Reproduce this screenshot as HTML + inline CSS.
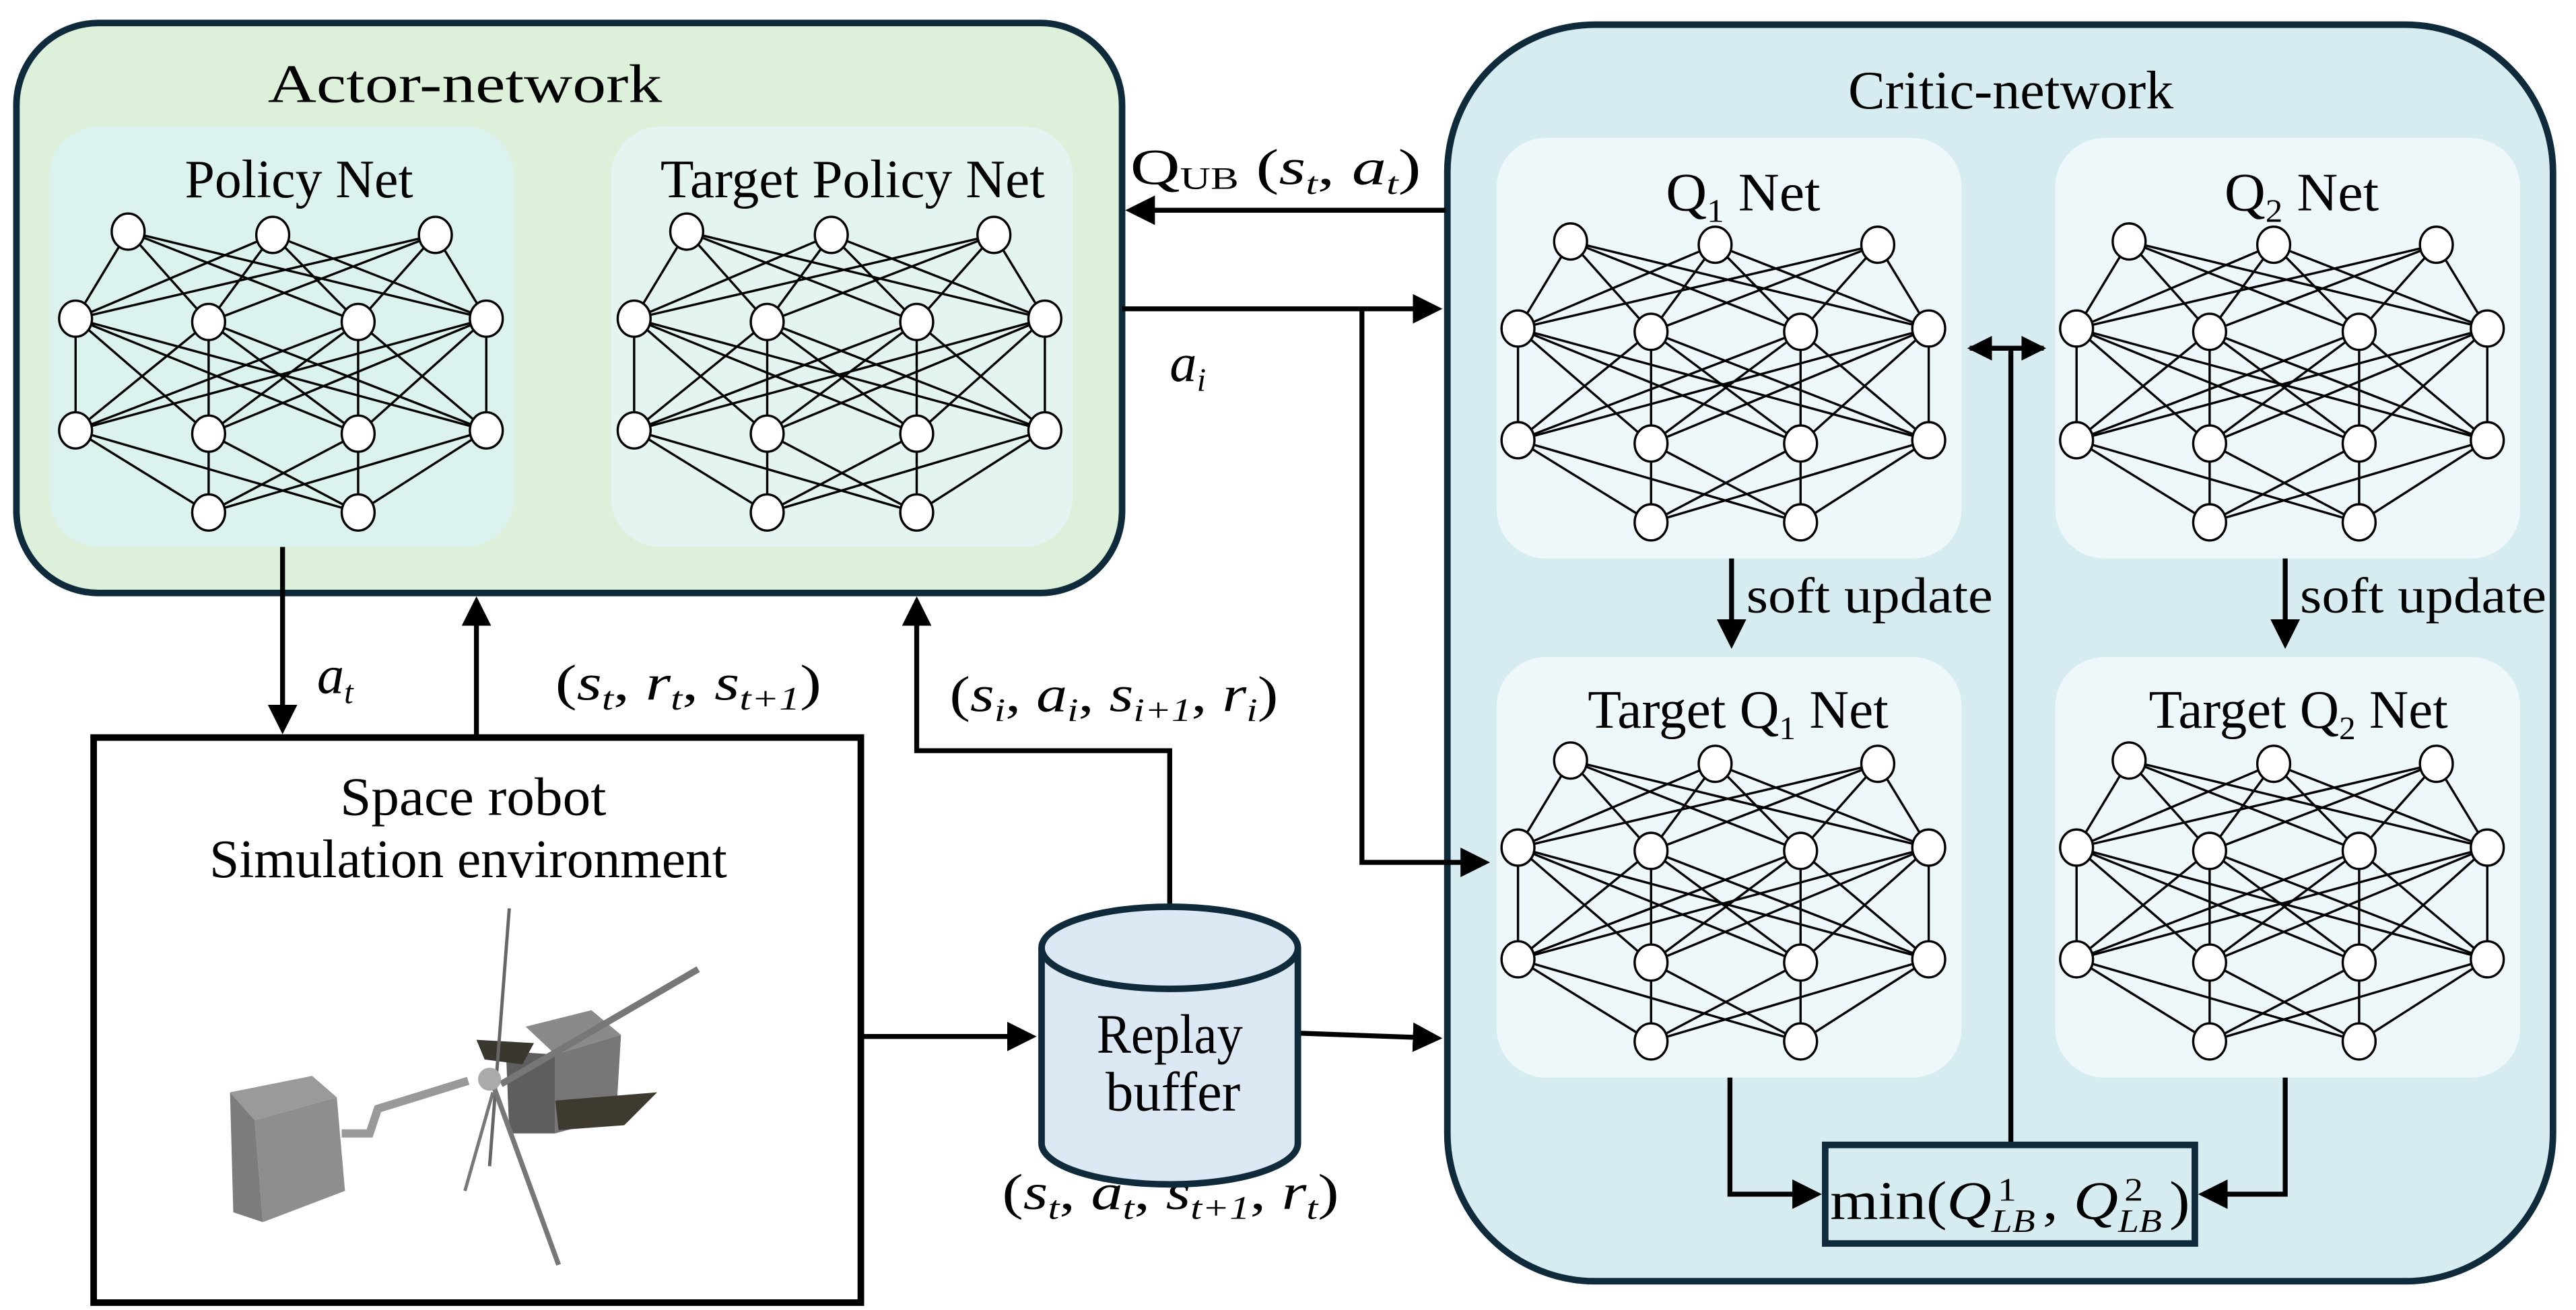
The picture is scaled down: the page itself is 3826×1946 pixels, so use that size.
<!DOCTYPE html>
<html><head><meta charset="utf-8"><style>
html,body{margin:0;padding:0;background:#fff;}
svg{display:block;}
text{font-family:"Liberation Serif",serif;fill:#000;}
.m{font-style:italic;}
</style></head><body>
<svg id="s" width="3826" height="1946" viewBox="0 0 1568 797.5" preserveAspectRatio="none" xmlns="http://www.w3.org/2000/svg" font-family="Liberation Serif, serif">
<defs>
<marker id="ah" markerWidth="6" markerHeight="6" refX="5" refY="3" orient="auto" markerUnits="strokeWidth">
<path d="M0,0 L6,3 L0,6 z" fill="#000"/></marker>
<marker id="ahs" markerWidth="5" markerHeight="5" refX="4.5" refY="2.5" orient="auto-start-reverse" markerUnits="strokeWidth">
<path d="M0,0 L5,2.5 L0,5 z" fill="#000"/></marker>
</defs>
<!-- Actor -->
<rect x="10" y="14" width="673" height="347" rx="50" ry="50" fill="#dcf0da" stroke="#0f2a3a" stroke-width="4"/>
<text x="283" y="62" font-size="33" text-anchor="middle" textLength="240" lengthAdjust="spacingAndGlyphs">Actor-network</text>
<rect x="30" y="77" width="283" height="256" rx="30" fill="#dcf2ee"/>
<rect x="372" y="77" width="281" height="256" rx="30" fill="#e4f4f1"/>
<text x="182" y="120" font-size="33" text-anchor="middle" textLength="139" lengthAdjust="spacingAndGlyphs">Policy Net</text>
<text x="519" y="120" font-size="33" text-anchor="middle" textLength="234" lengthAdjust="spacingAndGlyphs">Target Policy Net</text>
<!-- Critic -->
<rect x="881" y="15" width="673" height="765" rx="90" ry="90" fill="#d6ecf0" stroke="#0f2a3a" stroke-width="4"/>
<text x="1224" y="66" font-size="33" text-anchor="middle" textLength="198" lengthAdjust="spacingAndGlyphs">Critic-network</text>
<rect x="911" y="84" width="283" height="256" rx="30" fill="#eef8fb"/>
<rect x="1251" y="84" width="283" height="256" rx="30" fill="#eef8fb"/>
<rect x="911" y="400" width="283" height="256" rx="30" fill="#eef8fb"/>
<rect x="1251" y="400" width="283" height="256" rx="30" fill="#eef8fb"/>
<text x="1061" y="128" font-size="33" text-anchor="middle" textLength="94" lengthAdjust="spacingAndGlyphs">Q<tspan font-size="20" dy="7">1</tspan><tspan dy="-7"> Net</tspan></text>
<text x="1401" y="128" font-size="33" text-anchor="middle" textLength="94" lengthAdjust="spacingAndGlyphs">Q<tspan font-size="20" dy="7">2</tspan><tspan dy="-7"> Net</tspan></text>
<text x="1058" y="443" font-size="33" text-anchor="middle" textLength="183" lengthAdjust="spacingAndGlyphs">Target Q<tspan font-size="20" dy="7">1</tspan><tspan dy="-7"> Net</tspan></text>
<text x="1399" y="443" font-size="33" text-anchor="middle" textLength="182" lengthAdjust="spacingAndGlyphs">Target Q<tspan font-size="20" dy="7">2</tspan><tspan dy="-7"> Net</tspan></text>
<g id="nets"></g>
<!-- arrows -->
<g stroke="#000" stroke-width="3" fill="none">
<line x1="880" y1="128" x2="688" y2="128" marker-end="url(#ah)"/>
<line x1="683" y1="188" x2="875" y2="188" marker-end="url(#ah)"/>
<polyline points="829,188 829,525 904,525" marker-end="url(#ah)"/>
<line x1="172" y1="333" x2="172" y2="444" marker-end="url(#ah)"/>
<line x1="290" y1="449" x2="290" y2="366" marker-end="url(#ah)"/>
<polyline points="712,551 712,457 558,457 558,366" marker-end="url(#ah)"/>
<line x1="524" y1="631" x2="628" y2="631" marker-end="url(#ah)"/>
<line x1="791" y1="629" x2="875" y2="632" marker-end="url(#ah)"/>
<line x1="1054" y1="340" x2="1054" y2="392" marker-end="url(#ah)"/>
<line x1="1391" y1="340" x2="1391" y2="392" marker-end="url(#ah)"/>
<line x1="1199" y1="212" x2="1244" y2="212" marker-start="url(#ahs)" marker-end="url(#ahs)"/>
<line x1="1224" y1="212" x2="1224" y2="697"/>
<polyline points="1053,656 1053,727 1106,727" marker-end="url(#ah)"/>
<polyline points="1391,656 1391,727 1341,727" marker-end="url(#ah)"/>
</g>
<text x="1063" y="373" font-size="31" textLength="150" lengthAdjust="spacingAndGlyphs">soft update</text>
<text x="1400" y="373" font-size="31" textLength="150" lengthAdjust="spacingAndGlyphs">soft update</text>
<rect x="1111" y="697" width="225" height="60" fill="#d6ecf0" stroke="#0f2a3a" stroke-width="4"/>
<text x="1114" y="742" font-size="33" textLength="219" lengthAdjust="spacingAndGlyphs">min(<tspan class="m">Q</tspan><tspan class="m" font-size="20" dy="8">LB</tspan><tspan font-size="20" dx="-20" dy="-19">1</tspan><tspan dy="11" dx="14">, </tspan><tspan class="m">Q</tspan><tspan class="m" font-size="20" dy="8">LB</tspan><tspan font-size="20" dx="-20" dy="-19">2</tspan><tspan dy="11" dx="14">)</tspan></text>
<!-- labels -->
<text x="688" y="112" font-size="31" textLength="177" lengthAdjust="spacingAndGlyphs">Q<tspan font-size="19" dy="3">UB</tspan><tspan dy="-3"> (</tspan><tspan class="m">s</tspan><tspan class="m" font-size="19" dy="6">t</tspan><tspan dy="-6">, </tspan><tspan class="m">a</tspan><tspan class="m" font-size="19" dy="6">t</tspan><tspan dy="-6">)</tspan></text>
<text x="712" y="232" font-size="33" class="m">a<tspan font-size="20" dy="6">i</tspan></text>
<text x="193" y="422" font-size="33" class="m">a<tspan font-size="20" dy="6">t</tspan></text>
<text x="338" y="426" font-size="31" textLength="162" lengthAdjust="spacingAndGlyphs">(<tspan class="m">s</tspan><tspan class="m" font-size="20" dy="6">t</tspan><tspan dy="-6">, </tspan><tspan class="m">r</tspan><tspan class="m" font-size="20" dy="6">t</tspan><tspan dy="-6">, </tspan><tspan class="m">s</tspan><tspan class="m" font-size="20" dy="6">t+1</tspan><tspan dy="-6">)</tspan></text>
<text x="578" y="433" font-size="31" textLength="200" lengthAdjust="spacingAndGlyphs">(<tspan class="m">s</tspan><tspan class="m" font-size="20" dy="6">i</tspan><tspan dy="-6">, </tspan><tspan class="m">a</tspan><tspan class="m" font-size="20" dy="6">i</tspan><tspan dy="-6">, </tspan><tspan class="m">s</tspan><tspan class="m" font-size="20" dy="6">i+1</tspan><tspan dy="-6">, </tspan><tspan class="m">r</tspan><tspan class="m" font-size="20" dy="6">i</tspan><tspan dy="-6">)</tspan></text>
<text x="610" y="736" font-size="31" textLength="205" lengthAdjust="spacingAndGlyphs">(<tspan class="m">s</tspan><tspan class="m" font-size="20" dy="6">t</tspan><tspan dy="-6">, </tspan><tspan class="m">a</tspan><tspan class="m" font-size="20" dy="6">t</tspan><tspan dy="-6">, </tspan><tspan class="m">s</tspan><tspan class="m" font-size="20" dy="6">t+1</tspan><tspan dy="-6">, </tspan><tspan class="m">r</tspan><tspan class="m" font-size="20" dy="6">t</tspan><tspan dy="-6">)</tspan></text>
<!-- env -->
<rect x="57" y="449" width="467" height="344" fill="#fff" stroke="#000" stroke-width="4"/>
<text x="288" y="496" font-size="33" text-anchor="middle" textLength="162" lengthAdjust="spacingAndGlyphs">Space robot</text>
<text x="285" y="534" font-size="33" text-anchor="middle" textLength="315" lengthAdjust="spacingAndGlyphs">Simulation environment</text>
<!-- robot -->
<g>
<polygon points="140,665 190,655 205,668 155,682" fill="#9a9a9a"/>
<polygon points="140,665 155,682 160,744 142,738" fill="#7c7c7c"/>
<polygon points="155,682 205,668 210,725 160,744" fill="#8e8e8e"/>
<polyline points="208,690 225,690 230,675 285,658" fill="none" stroke="#999" stroke-width="5"/>
<polygon points="320,625 360,615 378,630 338,642" fill="#8a8a8a"/>
<polygon points="308,640 338,642 338,690 310,690" fill="#5e5e5e"/>
<polygon points="338,642 378,630 375,680 338,690" fill="#777"/>
<polygon points="290,633 325,635 318,648 295,645" fill="#3a372f"/>
<polygon points="338,670 400,665 380,685 340,688" fill="#3e3a30"/>
<line x1="305" y1="660" x2="425" y2="590" stroke="#777" stroke-width="4"/>
<line x1="310" y1="553" x2="298" y2="710" stroke="#666" stroke-width="2"/>
<line x1="300" y1="660" x2="340" y2="770" stroke="#777" stroke-width="3"/>
<line x1="300" y1="665" x2="283" y2="725" stroke="#777" stroke-width="2"/>
<circle cx="298" cy="657" r="7" fill="#aaa"/>
</g>
<!-- cylinder -->
<path d="M634,577 L634,696 A78,25 0 0 0 790,696 L790,577" fill="#dce9f5" stroke="#0f2a3a" stroke-width="4"/>
<ellipse cx="712" cy="577" rx="78" ry="25" fill="#dce9f5" stroke="#0f2a3a" stroke-width="4"/>
<text x="712" y="641" font-size="34" text-anchor="middle" textLength="89" lengthAdjust="spacingAndGlyphs">Replay</text>
<text x="714" y="676" font-size="34" text-anchor="middle" textLength="82" lengthAdjust="spacingAndGlyphs">buffer</text>
</svg>
<script>
(function(){
var g=document.getElementById('nets'),ns='http://www.w3.org/2000/svg';
function net(ox,oy){
 var L=[[[78,141],[166,143],[265,143]],[[46,194],[127,196],[218,196],[296,194]],[[46,262],[127,264],[218,264],[296,262]],[[127,312],[218,312]]];
 L=L.map(function(r){return r.map(function(p){return [p[0]+ox,p[1]+oy];});});
 for(var l=0;l<3;l++)for(var a=0;a<L[l].length;a++)for(var b=0;b<L[l+1].length;b++){
  var e=document.createElementNS(ns,'line');
  e.setAttribute('x1',L[l][a][0]);e.setAttribute('y1',L[l][a][1]);
  e.setAttribute('x2',L[l+1][b][0]);e.setAttribute('y2',L[l+1][b][1]);
  e.setAttribute('stroke','#000');e.setAttribute('stroke-width','1.4');g.appendChild(e);}
 L.forEach(function(r){r.forEach(function(p){
  var c=document.createElementNS(ns,'ellipse');
  c.setAttribute('cx',p[0]);c.setAttribute('cy',p[1]);c.setAttribute('rx',10);c.setAttribute('ry',11);
  c.setAttribute('fill','#fff');c.setAttribute('stroke','#000');c.setAttribute('stroke-width','1.4');g.appendChild(c);});});
}
net(0,0);net(340,0);net(878,6);net(1218,6);net(878,322);net(1218,322);
})();
</script>
</body></html>
